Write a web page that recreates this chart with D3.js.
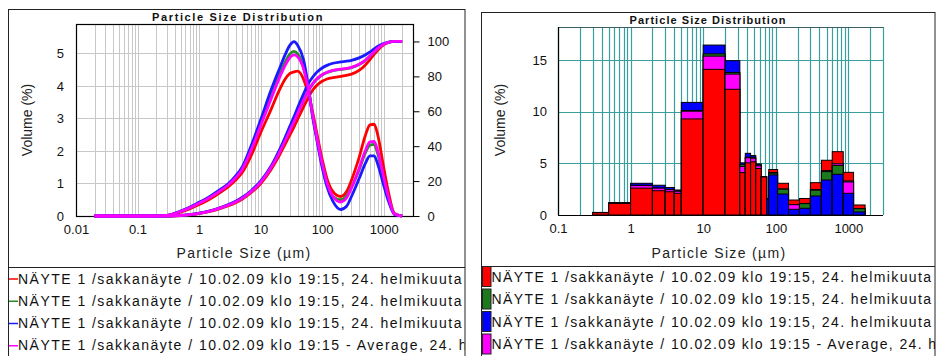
<!DOCTYPE html>
<html><head><meta charset="utf-8">
<script src="https://cdn.jsdelivr.net/npm/d3@7"></script>
<style>body{margin:0;background:#fff}svg{display:block;font-family:"Liberation Sans",Arial,Helvetica,sans-serif}</style>
</head><body><svg id="c" width="936" height="356"></svg>
<script>
// ---------- data ----------
const sizes = [0.02,0.1,0.2,0.3,0.5,0.7,1,1.5,2,3,4,5,7,10,15,20,25,30,35,40,50,60,70,80,100,120,150,200,250,300,400,500,600,700,800,1000,1200,1500,2000];
const distRed   = [0,0,0,0.02,0.12,0.22,0.35,0.52,0.67,0.9,1.12,1.33,1.85,2.55,3.3,3.85,4.2,4.38,4.43,4.45,4.2,3.75,3.2,2.65,1.75,1.15,0.75,0.6,0.75,1.1,1.8,2.45,2.8,2.82,2.5,1.5,0.72,0.08,0];
const distGreen = [0,0,0,0.02,0.14,0.25,0.4,0.58,0.73,0.97,1.2,1.45,2.05,2.82,3.68,4.3,4.72,4.98,5.06,4.98,4.55,3.9,3.1,2.5,1.6,1.0,0.6,0.5,0.62,0.88,1.42,1.92,2.18,2.2,1.92,1.15,0.55,0.06,0];
const distBlue  = [0,0,0,0.02,0.15,0.27,0.42,0.6,0.76,1.0,1.25,1.5,2.15,2.95,3.9,4.5,4.95,5.25,5.36,5.25,4.8,3.95,3.05,2.45,1.5,0.9,0.45,0.2,0.3,0.6,1.15,1.6,1.85,1.85,1.6,0.95,0.45,0.05,0];
const distAvg   = [0,0,0,0.02,0.14,0.25,0.39,0.57,0.72,0.96,1.19,1.43,2.02,2.77,3.63,4.22,4.62,4.87,4.95,4.89,4.52,3.87,3.12,2.53,1.62,1.02,0.6,0.43,0.56,0.86,1.46,1.99,2.28,2.29,2.01,1.2,0.57,0.06,0];
const cumRed    = [0,0,0,0,0.25,0.7,1.4,2.6,3.8,5.9,7.8,9.6,13.3,18.5,27,34.5,41,46.5,51,55.5,62.5,68,72,74.5,77.2,78.5,79.3,80,80.6,81.3,83.4,86.4,89.6,92.6,95,98,99.4,100,100];
const cumGreen  = [0,0,0,0,0.28,0.75,1.5,2.8,4.1,6.3,8.3,10.2,14,19.4,28.2,36.2,43.3,49.3,54.4,59,66.3,72,75.6,78,80.8,82.2,83.3,84,84.4,85,86.8,89,91.6,94,95.9,98.4,99.5,100,100];
const cumBlue   = [0,0,0,0,0.3,0.8,1.6,3.0,4.3,6.6,8.6,10.6,14.5,20,29,37.5,45,51.5,57,62,70,76,79.5,82,84.8,86.3,87.5,88.3,88.7,89.2,90.6,92.2,94,95.7,97.1,98.8,99.6,100,100];
const cumAvg    = [0,0,0,0,0.28,0.75,1.5,2.8,4.07,6.27,8.23,10.13,13.93,19.3,28.07,36.07,43.1,49.1,54.13,58.83,66.27,72,75.7,78.17,80.93,82.33,83.37,84.1,84.57,85.17,86.93,89.2,91.73,94.1,96,98.4,99.5,100,100];

const binEdges = [0.3,0.5,1,2,3,4,5,10,20,32,38,45,53,63,75,80,106,150,212,300,425,600,850,1180,1700];
const barRed   = [0.22,1.12,2.6,2.35,2.25,2.1,9.3,14.1,12.17,4.1,5.05,5.15,4.5,3.68,1.6,4.4,3.07,1.45,1.6,3.13,5.3,6.13,4.13,0.97];
const barGreen = [0.24,1.16,2.88,2.62,2.47,2.35,10.12,15.6,13.8,4.9,5.6,5.6,4.85,3.7,1.6,4.05,2.5,1.0,1.1,2.4,4.2,4.8,3.3,0.6];
const barBlue  = [0.25,1.19,3.07,2.88,2.66,2.42,10.9,16.45,14.94,5.05,5.97,5.75,4.94,3.72,1.55,3.88,2.03,0.55,0.65,1.84,3.39,3.94,2.1,0.3];
const barAvg   = [0.24,1.16,2.85,2.6,2.45,2.3,10.05,15.38,13.64,4.7,5.54,5.5,4.76,3.7,1.58,4.11,2.53,1.0,1.12,2.46,4.3,4.96,3.2,0.62];

const legendLabelsL = [
  "NÄYTE 1 /sakkanäyte / 10.02.09 klo 19:15, 24. helmikuuta 2",
  "NÄYTE 1 /sakkanäyte / 10.02.09 klo 19:15, 24. helmikuuta 2",
  "NÄYTE 1 /sakkanäyte / 10.02.09 klo 19:15, 24. helmikuuta 2",
  "NÄYTE 1 /sakkanäyte / 10.02.09 klo 19:15 - Average, 24. he"
];
const legendLabelsR = [
  "NÄYTE 1 /sakkanäyte / 10.02.09 klo 19:15, 24. helmikuuta",
  "NÄYTE 1 /sakkanäyte / 10.02.09 klo 19:15, 24. helmikuuta",
  "NÄYTE 1 /sakkanäyte / 10.02.09 klo 19:15, 24. helmikuuta",
  "NÄYTE 1 /sakkanäyte / 10.02.09 klo 19:15 - Average, 24. h"
];
const lineColors = ["#ff0000","#2a8a2a","#1a1aff","#ff00ff"];
const barColors  = ["#ff0000","#1c7a1c","#0000ff","#ff00ff"];
const chartTitle = "Particle Size Distribution";
const xLabel = "Particle Size (µm)";
const yLabel = "Volume (%)";
const xTicksL = [0.01,0.1,1,10,100,1000];
const yTicksL = [0,1,2,3,4,5];
const yTicksR = [0,20,40,60,80,100];
const xTicksB = [0.1,1,10,100,1000];
const yTicksB = [0,5,10,15];

// ---------- helpers ----------
const svg = d3.select("#c");
function fit(sel, w){
  const n = sel.text().length;
  const cur = sel.node().getComputedTextLength();
  sel.attr("letter-spacing", ((w-cur)/n).toFixed(3));
}
function minorTicks(lo, hi){
  const out=[];
  for(let e=Math.floor(Math.log10(lo)); e<=Math.ceil(Math.log10(hi)); e++){
    for(let m=1;m<=9;m++){ const v=m*Math.pow(10,e); if(v>=lo*0.999 && v<=hi*1.001) out.push(v); }
  }
  return out;
}
const fmt = d => String(d);

// ---------- panels ----------
svg.append("rect").attr("x",8.5).attr("y",9.5).attr("width",456.5).attr("height",360).attr("fill","none").attr("stroke","#222").attr("stroke-width",1);
svg.append("line").attr("x1",8.5).attr("x2",465).attr("y1",267.5).attr("y2",267.5).attr("stroke","#222");
svg.append("rect").attr("x",481.5).attr("y",12.5).attr("width",453.5).attr("height",360).attr("fill","none").attr("stroke","#222").attr("stroke-width",1);
svg.append("line").attr("x1",481.5).attr("x2",935).attr("y1",266.5).attr("y2",266.5).attr("stroke","#222");

// ---------- left chart ----------
const L = {x0:76, x1:413, y0:216, y1:24};
const xL = d3.scaleLog().domain([0.01,3000]).range([L.x0,L.x1]);
const yL = d3.scaleLinear().domain([0,5.9]).range([L.y0,L.y1]);
const yR = d3.scaleLinear().domain([0,110]).range([L.y0,L.y1]);
const gL = svg.append("g");
gL.selectAll("line.vg").data(minorTicks(0.01,3000)).join("line")
  .attr("x1",d=>Math.round(xL(d))+0.5).attr("x2",d=>Math.round(xL(d))+0.5).attr("y1",L.y1).attr("y2",L.y0)
  .attr("stroke","#c8c8c8").attr("stroke-width",1);
gL.selectAll("line.hg").data(yTicksL.slice(1)).join("line")
  .attr("x1",L.x0).attr("x2",L.x1).attr("y1",d=>Math.round(yL(d))+0.5).attr("y2",d=>Math.round(yL(d))+0.5)
  .attr("stroke","#c8c8c8");
gL.append("rect").attr("x",L.x0+0.5).attr("y",L.y1+0.5).attr("width",L.x1-L.x0).attr("height",L.y0-L.y1).attr("fill","none").attr("stroke","#000").attr("stroke-width",1.2);

// axes
const axLx = d3.axisBottom(xL).tickValues(xTicksL).tickFormat(fmt).tickSize(0).tickPadding(9);
const axLy = d3.axisLeft(yL).tickValues(yTicksL).tickFormat(d3.format("d")).tickSize(0).tickPadding(12);
const axRy = d3.axisRight(yR).tickValues(yTicksR).tickFormat(d3.format("d")).tickSize(6).tickPadding(8);
[gL.append("g").attr("transform",`translate(0,${L.y0})`).call(axLx),
 gL.append("g").attr("transform",`translate(${L.x0},0)`).call(axLy),
 gL.append("g").attr("transform",`translate(${L.x1+0.5},0)`).call(axRy)].forEach(g=>{
  g.select(".domain").remove();
  g.selectAll("text").attr("font-size",13).attr("fill","#111").attr("font-family","Liberation Sans, Arial, sans-serif");
  g.selectAll("line").attr("stroke","#000");
});

// curves
const lineD = (vals, ys) => d3.line().x((d,i)=>xL(sizes[i])).y(d=>ys(d)).curve(d3.curveMonotoneX)(vals);
const dists = [distRed,distGreen,distBlue,distAvg];
const cums  = [cumRed,cumGreen,cumBlue,cumAvg];
dists.forEach((v,i)=>{
  gL.append("path").attr("d",lineD(cums[i],yR)).attr("fill","none").attr("stroke",lineColors[i]).attr("stroke-width",2.8).attr("stroke-linejoin","round");
  gL.append("path").attr("d",lineD(v,yL)).attr("fill","none").attr("stroke",lineColors[i]).attr("stroke-width",2.8).attr("stroke-linejoin","round");
});

// titles
const tL = svg.append("text").attr("x",238).attr("y",20.5).attr("text-anchor","middle").attr("font-size",11).attr("font-weight","bold").attr("fill","#111").text(chartTitle);
fit(tL,172);
const xlL = svg.append("text").attr("x",244).attr("y",258).attr("text-anchor","middle").attr("font-size",14).attr("fill","#222").text(xLabel);
fit(xlL,135);
svg.append("text").attr("transform","translate(32,120) rotate(-90)").attr("text-anchor","middle").attr("font-size",14).attr("fill","#222").text(yLabel);

// ---------- right (bar) chart ----------
const B = {x0:558, x1:883, y0:215, y1:27};
const xB = d3.scaleLog().domain([0.1,3000]).range([B.x0,B.x1]);
const yB = d3.scaleLinear().domain([0,18.2]).range([B.y0,B.y1]);
const gB = svg.append("g");
const teal = "#3a9e9e";
gB.selectAll("line.vg").data(minorTicks(0.1,3000)).join("line")
  .attr("x1",d=>Math.round(xB(d))+0.5).attr("x2",d=>Math.round(xB(d))+0.5).attr("y1",B.y1).attr("y2",B.y0)
  .attr("stroke",teal).attr("stroke-width",1.2);
gB.selectAll("line.hg").data(yTicksB.slice(1)).join("line")
  .attr("x1",B.x0).attr("x2",B.x1).attr("y1",d=>Math.round(yB(d))+0.5).attr("y2",d=>Math.round(yB(d))+0.5)
  .attr("stroke",teal).attr("stroke-width",1.2);
gB.append("line").attr("x1",B.x0).attr("x2",B.x1+0.5).attr("y1",B.y1+0.5).attr("y2",B.y1+0.5).attr("stroke","#3a5f5f").attr("stroke-width",1.2);

const barVals = [barRed,barGreen,barBlue,barAvg];
binEdges.slice(0,-1).forEach((lo,j)=>{
  const hi = binEdges[j+1];
  const items = barVals.map((arr,i)=>({v:arr[j], c:barColors[i]})).sort((a,b)=>b.v-a.v);
  items.forEach(it=>{
    gB.append("rect").attr("x",xB(lo)).attr("width",xB(hi)-xB(lo)).attr("y",yB(it.v)).attr("height",yB(0)-yB(it.v))
      .attr("fill",it.c).attr("stroke","#000").attr("stroke-width",1);
  });
});
gB.append("line").attr("x1",B.x0+0.5).attr("x2",B.x0+0.5).attr("y1",B.y1).attr("y2",B.y0).attr("stroke","#000").attr("stroke-width",1.2);
gB.append("line").attr("x1",B.x0).attr("x2",B.x1).attr("y1",B.y0+0.5).attr("y2",B.y0+0.5).attr("stroke","#000").attr("stroke-width",1.2);

const axBx = d3.axisBottom(xB).tickValues(xTicksB).tickFormat(fmt).tickSize(0).tickPadding(9);
const axBy = d3.axisLeft(yB).tickValues(yTicksB).tickFormat(d3.format("d")).tickSize(0).tickPadding(11);
[gB.append("g").attr("transform",`translate(0,${B.y0})`).call(axBx),
 gB.append("g").attr("transform",`translate(${B.x0},0)`).call(axBy)].forEach(g=>{
  g.select(".domain").remove();
  g.selectAll("text").attr("font-size",13).attr("fill","#111").attr("font-family","Liberation Sans, Arial, sans-serif");
});
const tB = svg.append("text").attr("x",708).attr("y",23.5).attr("text-anchor","middle").attr("font-size",11).attr("font-weight","bold").attr("fill","#111").text(chartTitle);
fit(tB,157);
const xlB = svg.append("text").attr("x",719).attr("y",258).attr("text-anchor","middle").attr("font-size",14).attr("fill","#222").text(xLabel);
fit(xlB,135);
svg.append("text").attr("transform","translate(505,120) rotate(-90)").attr("text-anchor","middle").attr("font-size",14).attr("fill","#222").text(yLabel);

// ---------- legends ----------
const defs = svg.append("defs");
defs.append("clipPath").attr("id","clipL").append("rect").attr("x",9).attr("y",268).attr("width",455.5).attr("height",90);
defs.append("clipPath").attr("id","clipR").append("rect").attr("x",482).attr("y",267).attr("width",453).attr("height",90);
const legL = svg.append("g").attr("clip-path","url(#clipL)");
const legR = svg.append("g").attr("clip-path","url(#clipR)");
const rowL = [278.5,300.8,323,345.3];
const rowR = [276.5,299,321.5,344];
const refPart = "NÄYTE 1 /sakkanäyte / 10.02.09 klo 19:15, 24. helmikuuta";
function spread(node, target){
  const s=d3.select(node); const full=s.text();
  s.text(refPart);
  const w=node.getComputedTextLength(); const n=refPart.length;
  s.attr("letter-spacing",((target-w)/n).toFixed(3)).text(full);
}
legendLabelsL.forEach((lab,i)=>{
  legL.append("line").attr("x1",9).attr("x2",18).attr("y1",rowL[i]+0.5).attr("y2",rowL[i]+0.5).attr("stroke",lineColors[i]).attr("stroke-width",1.5);
  const t = legL.append("text").attr("x",18).attr("y",rowL[i]+5).attr("font-size",14).attr("fill","#111").text(lab);
  spread(t.node(),445);
});
legendLabelsR.forEach((lab,i)=>{
  legR.append("rect").attr("x",482.5).attr("y",rowR[i]-10).attr("width",8.5).attr("height",20).attr("fill",barColors[i]).attr("stroke","#222").attr("stroke-width",1);
  const t2 = legR.append("text").attr("x",491.5).attr("y",rowR[i]+5).attr("font-size",14).attr("fill","#111").text(lab);
  spread(t2.node(),441);
});
</script></body></html>
